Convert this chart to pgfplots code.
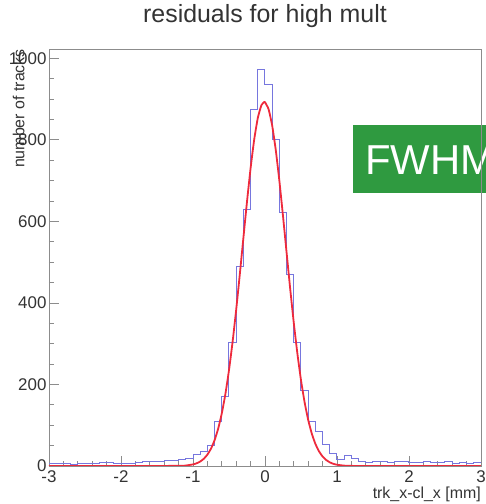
\documentclass[border=0pt]{standalone}
\usepackage{fontspec}
\setmainfont{Liberation Sans}
\usepackage{pgfplots}
\pgfplotsset{compat=1.18}
\definecolor{histBlue}{HTML}{7676DE}
\definecolor{fitRed}{HTML}{EE2A3C}
\definecolor{frameGrey}{HTML}{8C8C8C}
\definecolor{textGrey}{HTML}{333333}
\definecolor{boxGreen}{HTML}{2F9A40}

% residual histogram, 0.1 mm bins, left edges
\pgfplotstableread{
x    n
-3.0 6
-2.9 5
-2.8 6
-2.7 4
-2.6 5
-2.5 6
-2.4 5
-2.3 8
-2.2 9
-2.1 6
-2.0 6
-1.9 7
-1.8 8
-1.7 10
-1.6 10
-1.5 12
-1.4 14
-1.3 13
-1.2 17
-1.1 19
-1.0 27
-0.9 35
-0.8 50
-0.7 109
-0.6 170
-0.5 302
-0.4 489
-0.3 630
-0.2 874
-0.1 972
0.0  937
0.1  800
0.2  621
0.3  470
0.4  302
0.5  186
0.6  109
0.7  84
0.8  52
0.9  30
1.0  15
1.1  25
1.2  18
1.3  10
1.4  8
1.5  12
1.6  12
1.7  8
1.8  10
1.9  12
2.0  9
2.1  8
2.2  10
2.3  9
2.4  8
2.5  10
2.6  7
2.7  9
2.8  6
2.9  8
3.0  8
}\histtab

% gaussian fit, sampled
\pgfplotstableread{
x     f
-3.0  0
-1.2  0.3
-1.1  1.2
-1.0  3.9
-0.95 6.6
-0.9  11.0
-0.85 17.7
-0.8  27.9
-0.75 42.6
-0.7  63.4
-0.65 91.8
-0.6  129.1
-0.55 176.7
-0.5  235.2
-0.45 304.6
-0.4  383.6
-0.35 469.8
-0.3  559.7
-0.25 648.4
-0.2  730.7
-0.15 800.9
-0.1  853.7
-0.05 885.1
-0.01 893.0
0.0   892.5
0.05  875.3
0.1   834.9
0.15  774.6
0.2   699.0
0.25  613.4
0.3   523.6
0.35  434.7
0.4   350.9
0.45  275.6
0.5   210.5
0.55  156.5
0.6   113.0
0.65  79.4
0.7   54.3
0.75  36.1
0.8   23.3
0.85  14.7
0.9   9.0
0.95  5.3
1.0   3.1
1.1   0.95
1.2   0.26
3.0   0
}\fittab

\begin{document}
\begin{tikzpicture}
\begin{axis}[
  at={(0,0)}, anchor=south west,
  scale only axis,
  width=432bp, height=417bp,
  xmin=-3, xmax=3, ymin=0, ymax=1023,
  xtick={-3,-2,...,3}, ytick={0,200,...,1000},
  minor x tick num=4, minor y tick num=3,
  xtick pos=left, ytick pos=left,
  tick align=inside,
  major tick length=10bp, minor tick length=5bp,
  axis line style={frameGrey,line width=0.8pt},
  tick style={frameGrey,line width=0.8pt},
  /pgf/number format/assume math mode=true,
  /pgf/number format/set thousands separator={},
  ticklabel style={font=\fontsize{17}{19}\selectfont,color=textGrey},
  xticklabel style={yshift=-1bp},
  yticklabel style={xshift=1bp},
  title={residuals for high mult},
  title style={font=\fontsize{25}{28}\selectfont,color=textGrey,
    at={(axis description cs:0.5,1)},anchor=center,yshift=27bp},
  xlabel={trk\_x-cl\_x [mm]},
  xlabel style={font=\fontsize{16}{18}\selectfont,color=textGrey,
    at={(axis description cs:1,0)},anchor=north east,yshift=-21bp,inner sep=0pt},
  ylabel={number of tracks},
  ylabel style={font=\fontsize{16}{18}\selectfont,color=textGrey,
    at={(axis description cs:-0.056,1)},anchor=south east,inner sep=0pt},
]
\addplot[histBlue,line width=1pt,const plot mark left] table[x=x,y=n] {\histtab};
\addplot[fitRed,line width=1.8pt,smooth,tension=0.3] table[x=x,y=f] {\fittab};
\end{axis}
% slide overlay box
\fill[boxGreen] (304bp,273bp) rectangle (445bp,341bp);
\node[anchor=base west,inner sep=0pt,text=white,font=\fontsize{42}{44}\selectfont]
  at (316bp,291bp) {FWHM};
\draw[frameGrey,line width=0.8pt] (432bp,273bp) -- (432bp,341bp);
\pgfresetboundingbox
\path[use as bounding box] (-49bp,-38bp) rectangle (437bp,466bp);
\end{tikzpicture}
\end{document}
